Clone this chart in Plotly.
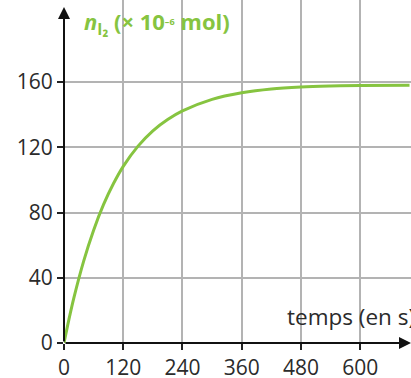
import plotly.graph_objects as go

# Data
temps = [0, 10, 20, 40, 60, 80, 100, 120, 150, 180, 210, 240, 300, 360, 420, 480, 540, 600, 700]
n_I2 = [0, 14.5, 27.7, 50.4, 69.2, 84.8, 97.6, 108.3, 120.7, 130.1, 137.0, 142.3, 149.4, 153.4, 155.8, 157.0, 157.6, 157.9, 158.0]
x_ticks = [0, 120, 240, 360, 480, 600]
y_ticks = [0, 40, 80, 120, 160]

GREEN = "#86c440"
FONT = "Open Sans"

fig = go.Figure()
fig.add_trace(go.Scatter(x=temps, y=n_I2, mode="lines", line=dict(color=GREEN, width=3, shape="spline"),
                         hoverinfo="skip", showlegend=False))

fig.update_layout(
    width=411, height=378,
    margin=dict(l=64, r=0, t=0, b=35),
    paper_bgcolor="white", plot_bgcolor="white",
    font=dict(family=FONT, size=21, color="#2b2b2b"),
    xaxis=dict(range=[0, 703], tickvals=x_ticks, ticks="outside", ticklen=6, tickcolor="#222",
               tickwidth=1.5, showgrid=True, gridcolor="#b3b3b3", gridwidth=1.5, zeroline=False,
               showline=False, fixedrange=True, automargin=False),
    yaxis=dict(range=[0, 210.3], tickvals=y_ticks, ticks="outside", ticklen=6, tickcolor="#222",
               tickwidth=1.5, showgrid=True, gridcolor="#b3b3b3", gridwidth=1.5, zeroline=False,
               showline=False, fixedrange=True, automargin=False),
)

# y axis arrow
fig.add_annotation(x=0, y=206, ax=0, ay=0, xref="x", yref="y", axref="x", ayref="y",
                   showarrow=True, arrowhead=2, arrowsize=1.2, arrowwidth=2, arrowcolor="#111", text="")
# x axis arrow
fig.add_annotation(x=703, y=0, ax=0, ay=0, xref="x", yref="y", axref="x", ayref="y",
                   showarrow=True, arrowhead=2, arrowsize=1.2, arrowwidth=2, arrowcolor="#111", text="")

fig.add_annotation(x=36, y=196.5, xref="x", yref="y", xanchor="left", yanchor="middle", showarrow=False,
                   text="<b><i>n</i><sub>I₂</sub> (× 10<span style='font-size:13px'><sup>–6</sup></span> mol)</b>",
                   font=dict(family=FONT, size=22, color=GREEN))
fig.add_annotation(x=448, y=16, xref="x", yref="y", xanchor="left", yanchor="middle", showarrow=False,
                   text="temps (en s)", font=dict(family=FONT, size=22.5, color="#2b2b2b"))

fig.write_html("out.html", config={"displayModeBar": False},
               post_script="document.body.style.margin='0';")
